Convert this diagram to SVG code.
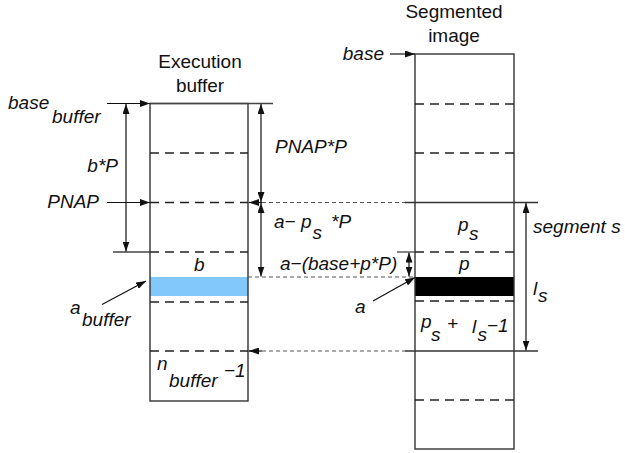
<svg xmlns="http://www.w3.org/2000/svg" width="625" height="453" viewBox="0 0 625 453">
<style>
text{font-family:"Liberation Sans",Arial,sans-serif;font-size:19px;fill:#111}
.it{font-style:italic}
.box{fill:none;stroke:#333;stroke-width:1.4}
.dash{stroke:#222;stroke-width:1.3;stroke-dasharray:9 6;fill:none}
.cdash{stroke:#555;stroke-width:1.2;stroke-dasharray:4 3;fill:none}
.ln{stroke:#333;stroke-width:1.3;fill:none}
.ext{stroke:#444;stroke-width:1.3;fill:none}
.arr{stroke:#111;stroke-width:1.2;fill:none}
.e{marker-end:url(#ah)}
.b{marker-start:url(#ah);marker-end:url(#ah)}
</style>
<defs>
<marker id="ah" viewBox="0 0 10 7" refX="10" refY="3.5" markerWidth="10" markerHeight="7" markerUnits="userSpaceOnUse" orient="auto-start-reverse">
<path d="M0,0 L10,3.5 L0,7 z" fill="#111"/>
</marker>
</defs>
<rect width="625" height="453" fill="#fff"/>

<g id="execution-buffer">
<rect x="150" y="277" width="98" height="19" fill="#82c8fa"/>
<rect class="box" x="150" y="103.5" width="98" height="297.5"/>
<line class="dash" x1="150" y1="153" x2="248" y2="153"/>
<line class="dash" x1="150" y1="202.5" x2="248" y2="202.5"/>
<line class="dash" x1="150" y1="252" x2="248" y2="252"/>
<line class="dash" x1="150" y1="302" x2="248" y2="302"/>
<line class="dash" x1="150" y1="351" x2="248" y2="351"/>
<text x="200" y="68" text-anchor="middle">Execution</text>
<text x="200" y="92" text-anchor="middle">buffer</text>
<text class="it" x="194" y="271">b</text>
<text class="it" x="157" y="370">n</text>
<text class="it" x="169" y="387">buffer</text>
<text class="it" x="224" y="377">−1</text>
</g>

<g id="segmented-image">
<rect x="415" y="277" width="99" height="19" fill="#000"/>
<rect class="box" x="415" y="54" width="99" height="395"/>
<line class="dash" x1="415" y1="104" x2="514" y2="104"/>
<line class="dash" x1="415" y1="153" x2="514" y2="153"/>
<line class="dash" x1="415" y1="252" x2="514" y2="252"/>
<line class="dash" x1="415" y1="301" x2="514" y2="301"/>
<line class="dash" x1="415" y1="400" x2="514" y2="400"/>
<text x="454" y="18" text-anchor="middle">Segmented</text>
<text x="454" y="42" text-anchor="middle">image</text>
<text class="it" x="458" y="231">p</text>
<text class="it" x="469" y="240">s</text>
<text class="it" x="459" y="270">p</text>
<text class="it" x="421" y="328">p</text>
<text class="it" x="431" y="341">s</text>
<text class="it" x="447" y="330">+</text>
<text class="it" x="472" y="333">l</text>
<text class="it" x="477.5" y="341">s</text>
<text class="it" x="487" y="332">−1</text>
</g>

<g id="connectors">
<line class="ext" x1="150" y1="103.5" x2="273" y2="103.5"/>
<line class="arr e" x1="107" y1="103.5" x2="150" y2="103.5"/>
<line class="arr e" x1="107" y1="202.5" x2="150" y2="202.5"/>
<line class="ext" x1="113" y1="252" x2="150" y2="252"/>
<line class="arr b" x1="126" y1="104" x2="126" y2="251.5"/>
<line class="arr b" x1="261" y1="104" x2="261" y2="202"/>
<line class="arr b" x1="261" y1="203" x2="261" y2="276.5"/>
<line class="cdash" x1="248" y1="202.5" x2="405" y2="202.5"/>
<line class="arr e" x1="262" y1="202.5" x2="249" y2="202.5"/>
<line class="ln" x1="405" y1="202.5" x2="538" y2="202.5"/>
<line class="cdash" x1="248" y1="277" x2="415" y2="277"/>
<line class="cdash" x1="248" y1="351" x2="405" y2="351"/>
<line class="arr e" x1="262" y1="351" x2="249" y2="351"/>
<line class="ln" x1="405" y1="351" x2="538" y2="351"/>
<line class="arr b" x1="526" y1="203" x2="526" y2="350.5"/>
<line class="arr e" x1="390" y1="54" x2="415" y2="54"/>
<line class="ext" x1="397" y1="252" x2="415" y2="252"/>
<line class="arr b" x1="409" y1="252.5" x2="409" y2="276.5"/>
<line class="arr e" x1="373" y1="301" x2="415" y2="277.5"/>
<line class="arr e" x1="102" y1="304.5" x2="146" y2="281"/>
</g>

<g id="labels">
<text class="it" x="8" y="109">base</text>
<text class="it" x="52" y="123">buffer</text>
<text class="it" x="118" y="172" text-anchor="end">b*P</text>
<text class="it" x="99" y="208" text-anchor="end">PNAP</text>
<text class="it" x="275" y="153">PNAP*P</text>
<text class="it" x="274" y="228">a−</text>
<text class="it" x="301" y="228">p</text>
<text class="it" x="312.5" y="239">s</text>
<text class="it" x="331" y="228">*P</text>
<text class="it" x="280" y="270">a−(base+p*P)</text>
<text class="it" x="70" y="314">a</text>
<text class="it" x="82" y="326">buffer</text>
<text class="it" x="355" y="313">a</text>
<text class="it" x="384" y="60" text-anchor="end">base</text>
<text class="it" x="533" y="233">segment s</text>
<text class="it" x="533" y="295">l</text>
<text class="it" x="538" y="302">s</text>
</g>
</svg>
